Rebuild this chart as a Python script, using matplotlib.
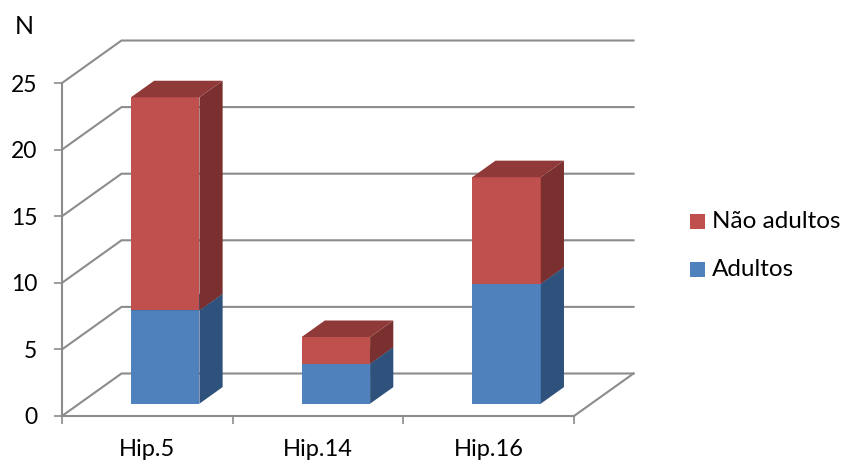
#!/usr/bin/env python3
import matplotlib
matplotlib.use("Agg")
import matplotlib.pyplot as plt
from matplotlib.patches import Polygon, Rectangle


CATEGORIES = ["Hip.5", "Hip.14", "Hip.16"]
ADULTOS = [7, 3, 9]
NAO_ADULTOS = [16, 2, 8]
Y_TICKS = [0, 5, 10, 15, 20, 25]

BLUE = ("#4F81BD", "#2F527C", "#39628F")
RED = ("#C0504D", "#7A302E", "#8F3A38")
GRID = "#8C8C8C"

# one category is 170.67 px wide, one value unit 13.32 px high
PX_X = 512 / 3
PX_Y = 13.32
DEPTH_X = 59.5 / PX_X
DEPTH_Y = 42.5 / PX_Y


def draw_box(ax, x0, x1, y0, y1, colors, z):
    front, side, top = colors
    # floor offset puts the bars partway back from the front edge
    fx = 0.30 * DEPTH_X
    fy = 0.29 * DEPTH_Y
    dx = 0.39 * DEPTH_X
    dy = 0.39 * DEPTH_Y
    l, r = x0 + fx, x1 + fx
    b, t = y0 + fy, y1 + fy
    ax.add_patch(Polygon([(l, b), (r, b), (r, t), (l, t)], fc=front, ec="none", zorder=z))
    ax.add_patch(Polygon([(r, b), (r + dx, b + dy), (r + dx, t + dy), (r, t)], fc=side, ec="none", zorder=z))
    ax.add_patch(Polygon([(l, t), (r, t), (r + dx, t + dy), (l + dx, t + dy)], fc=top, ec="none", zorder=z))


def main():
    plt.rcParams["font.family"] = "Lato"
    fig = plt.figure(figsize=(8.42, 4.62), dpi=100)
    ax = fig.add_axes([0, 0, 1, 1])

    ax.set_xlim(-62 / PX_X, (842 - 62) / PX_X)
    ax.set_ylim(-(462 - 416) / PX_Y, 416 / PX_Y)

    # side wall and back wall gridlines
    for v in Y_TICKS:
        ax.plot([0, DEPTH_X, 3 + DEPTH_X], [v, v + DEPTH_Y, v + DEPTH_Y], color=GRID, lw=1.5, zorder=1)
    # floor edge on the right
    ax.plot([3, 3 + DEPTH_X], [0, DEPTH_Y], color=GRID, lw=1.5, zorder=1)

    for side in ("top", "right"):
        ax.spines[side].set_visible(False)
    ax.spines["left"].set_position(("data", 0))
    ax.spines["bottom"].set_position(("data", 0))
    ax.spines["left"].set_bounds(0, 25)
    ax.spines["bottom"].set_bounds(0, 3)
    ax.spines["left"].set_color(GRID)
    ax.spines["bottom"].set_color(GRID)
    ax.spines["left"].set_linewidth(1.5)
    ax.spines["bottom"].set_linewidth(1.5)

    ax.set_yticks(Y_TICKS)
    ax.tick_params(axis="y", length=5.8, width=1.2, color=GRID, labelsize=16.5, pad=12, labelcolor="black")
    ax.set_xticks(range(4))
    ax.set_xticklabels([])
    ax.set_xticks([i + 0.5 for i in range(3)], CATEGORIES, minor=True)
    ax.tick_params(axis="x", which="major", length=5.8, width=1.2, color=GRID)
    ax.tick_params(axis="x", which="minor", length=0, labelsize=17, pad=16.5, labelcolor="black")

    bar_w = 68.5 / PX_X
    for i in range(3):
        x0 = i + 0.5 - bar_w / 2
        x1 = i + 0.5 + bar_w / 2
        draw_box(ax, x0, x1, 0, ADULTOS[i], BLUE, 3)
        draw_box(ax, x0, x1, ADULTOS[i], ADULTOS[i] + NAO_ADULTOS[i], RED, 4)

    # legend squares and labels
    for y_px, color, label in [(221.5, RED[0], "Não adultos"), (269.5, BLUE[0], "Adultos")]:
        yv = (416 - y_px) / PX_Y
        ax.add_patch(Rectangle(((690 - 62) / PX_X, yv - 7.5 / PX_Y), 15 / PX_X, 15 / PX_Y, fc=color, ec="none"))
        ax.text((712 - 62) / PX_X, yv, label, fontsize=17.5, va="center", ha="left", color="black")

    ax.text((24.5 - 62) / PX_X, (416 - 27) / PX_Y, "N", fontsize=18, va="center", ha="center")

    fig.savefig("out.png", dpi=100)


if __name__ == '__main__':
    main()
